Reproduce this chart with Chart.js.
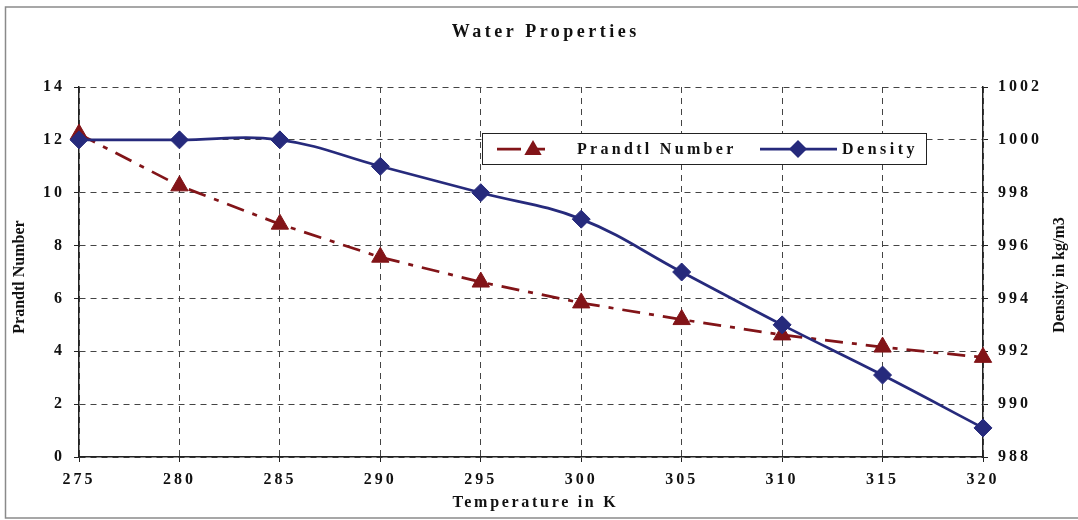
<!DOCTYPE html>
<html lang="en">
<head>
<meta charset="UTF-8">
<title>Water Properties</title>
<script src="https://cdn.jsdelivr.net/npm/chart.js"></script>
<style>
    body { margin: 0; background: #fff; }
    #wrap { width: 1078px; height: 520px; }
</style>
</head>
<body>
<div id="wrap"><canvas id="waterChart" width="1078" height="520"></canvas></div>
<script>
// temperature in K
const temps = [275, 280, 285, 290, 295, 300, 305, 310, 315, 320];
// Prandtl number of water
const prandtl = [12.22, 10.26, 8.81, 7.56, 6.62, 5.83, 5.20, 4.62, 4.16, 3.77];
// density in kg/m3
const density = [1000, 1000, 1000, 999.0, 998.0, 997.0, 995.0, 993.0, 991.1, 989.1];
// axis ticks
const tempTicks = [275, 280, 285, 290, 295, 300, 305, 310, 315, 320];
const prandtlTicks = [0, 2, 4, 6, 8, 10, 12, 14];
const densityTicks = [988, 990, 992, 994, 996, 998, 1000, 1002];

const SERIF = '"Liberation Serif", "Times New Roman", serif';
const RED = '#821418';
const BLUE = '#262a7c';
const GRID = '#444';

function spacedText(ctx, text, x, y, size, spacing, align) {
    ctx.save();
    ctx.font = 'bold ' + size + 'px ' + SERIF;
    ctx.letterSpacing = spacing + 'px';
    ctx.fillStyle = '#111';
    ctx.textBaseline = 'middle';
    ctx.textAlign = align || 'center';
    // trailing spacing shifts centered text, put it back
    const shift = (align === 'left') ? 0 : spacing / 2;
    ctx.fillText(text, x + shift, y);
    ctx.restore();
}

function rotatedText(ctx, text, x, y, size) {
    ctx.save();
    ctx.translate(x, y);
    ctx.rotate(-Math.PI / 2);
    ctx.font = 'bold ' + size + 'px ' + SERIF;
    ctx.letterSpacing = '0px';
    ctx.fillStyle = '#111';
    ctx.textAlign = 'center';
    ctx.textBaseline = 'middle';
    ctx.fillText(text, 0, 0);
    ctx.restore();
}

function triangle(ctx, cx, cy, r) {
    ctx.beginPath();
    ctx.moveTo(cx, cy - r);
    ctx.lineTo(cx + r * Math.sin(Math.PI * 2 / 3), cy + r / 2);
    ctx.lineTo(cx - r * Math.sin(Math.PI * 2 / 3), cy + r / 2);
    ctx.closePath();
    ctx.fill();
}

function diamond(ctx, cx, cy, r) {
    ctx.beginPath();
    ctx.moveTo(cx, cy - r);
    ctx.lineTo(cx + r, cy);
    ctx.lineTo(cx, cy + r);
    ctx.lineTo(cx - r, cy);
    ctx.closePath();
    ctx.fill();
}

const decorPlugin = {
    id: 'decor',
    beforeLayout(chart) {
        chart.ctx.letterSpacing = '3px';
    },
    beforeDraw(chart) {
        const ctx = chart.ctx;
        ctx.letterSpacing = '3px';
        ctx.save();
        ctx.fillStyle = '#fff';
        ctx.fillRect(0, 0, chart.width, chart.height);
        ctx.strokeStyle = '#8a8a8a';
        ctx.lineWidth = 1.5;
        ctx.strokeRect(5.5, 7, chart.width, 511);
        ctx.restore();
    },
    afterDraw(chart) {
        const ctx = chart.ctx;
        spacedText(ctx, 'Water Properties', 544, 32, 18, 3.5);
        spacedText(ctx, 'Temperature in K', 534, 503, 16, 2.7);
        rotatedText(ctx, 'Prandtl Number', 20, 277, 16);
        rotatedText(ctx, 'Density in kg/m3', 1060, 275, 16);

        // legend box
        ctx.save();
        ctx.letterSpacing = '0px';
        ctx.fillStyle = '#fff';
        ctx.fillRect(482, 133, 444, 31);
        ctx.strokeStyle = '#222';
        ctx.lineWidth = 1;
        ctx.strokeRect(482.5, 133.5, 444, 31);
        const cy = 149;

        ctx.strokeStyle = RED;
        ctx.fillStyle = RED;
        ctx.lineWidth = 2.75;
        ctx.setLineDash([24, 12, 12, 200]);
        ctx.beginPath();
        ctx.moveTo(497, cy);
        ctx.lineTo(570, cy);
        ctx.stroke();
        ctx.setLineDash([]);
        triangle(ctx, 533, cy + 1, 10);

        ctx.strokeStyle = BLUE;
        ctx.fillStyle = BLUE;
        ctx.beginPath();
        ctx.moveTo(760, cy);
        ctx.lineTo(837, cy);
        ctx.stroke();
        diamond(ctx, 798, cy, 9);
        ctx.restore();

        spacedText(ctx, 'Prandtl Number', 577, cy + 1, 16, 3.3, 'left');
        spacedText(ctx, 'Density', 842, cy + 1, 16, 3.5, 'left');
    }
};

const ctx = document.getElementById('waterChart').getContext('2d');

const tickFont = { family: SERIF, size: 16, weight: 'bold' };
const plain = v => String(v);

new Chart(ctx, {
    type: 'line',
    data: {
        datasets: [{
            label: 'Prandtl Number',
            data: temps.map((t, i) => ({ x: t, y: prandtl[i] })),
            yAxisID: 'y',
            borderColor: RED,
            backgroundColor: RED,
            borderWidth: 2.75,
            borderDash: [18, 9, 5, 9],
            tension: 0,
            pointStyle: 'triangle',
            pointRadius: 10,
            pointBorderWidth: 1,
            clip: false,
            order: 1
        }, {
            label: 'Density',
            data: temps.map((t, i) => ({ x: t, y: density[i] })),
            yAxisID: 'y1',
            borderColor: BLUE,
            backgroundColor: BLUE,
            borderWidth: 2.75,
            tension: 0.4,
            pointStyle: 'rectRot',
            pointRadius: 9,
            pointBorderWidth: 1,
            clip: false,
            order: 0
        }]
    },
    options: {
        responsive: false,
        animation: false,
        events: [],
        layout: { padding: { top: 87, left: 0, right: 0, bottom: 0 } },
        plugins: {
            legend: { display: false },
            title: { display: false },
            tooltip: { enabled: false }
        },
        scales: {
            x: {
                type: 'linear',
                min: temps[0],
                max: temps[temps.length - 1],
                afterBuildTicks: s => { s.ticks = tempTicks.map(v => ({ value: v })); },
                afterFit: s => { s.height = 63; },
                ticks: { font: tickFont, color: '#111', padding: 8, maxRotation: 0, callback: plain },
                grid: { color: GRID, lineWidth: 1, tickLength: 5, tickColor: '#222' },
                border: { color: '#222', width: 1.5, dash: [6, 5] }
            },
            y: {
                position: 'left',
                min: prandtlTicks[0],
                max: prandtlTicks[prandtlTicks.length - 1],
                afterBuildTicks: s => { s.ticks = prandtlTicks.map(v => ({ value: v })); },
                afterFit: s => { s.width = 79; },
                ticks: { font: tickFont, color: '#111', padding: 9, callback: plain },
                grid: { color: GRID, lineWidth: 1, tickLength: 5, tickColor: '#222' },
                border: { color: '#222', width: 1.5, dash: [6, 5] }
            },
            y1: {
                position: 'right',
                min: densityTicks[0],
                max: densityTicks[densityTicks.length - 1],
                afterBuildTicks: s => { s.ticks = densityTicks.map(v => ({ value: v })); },
                afterFit: s => { s.width = 95; },
                ticks: { font: tickFont, color: '#111', padding: 10, callback: plain },
                grid: { drawOnChartArea: false, tickLength: 5, tickColor: '#222' },
                border: { color: '#222', width: 1.5 }
            }
        }
    },
    plugins: [decorPlugin]
});
</script>
</body>
</html>
